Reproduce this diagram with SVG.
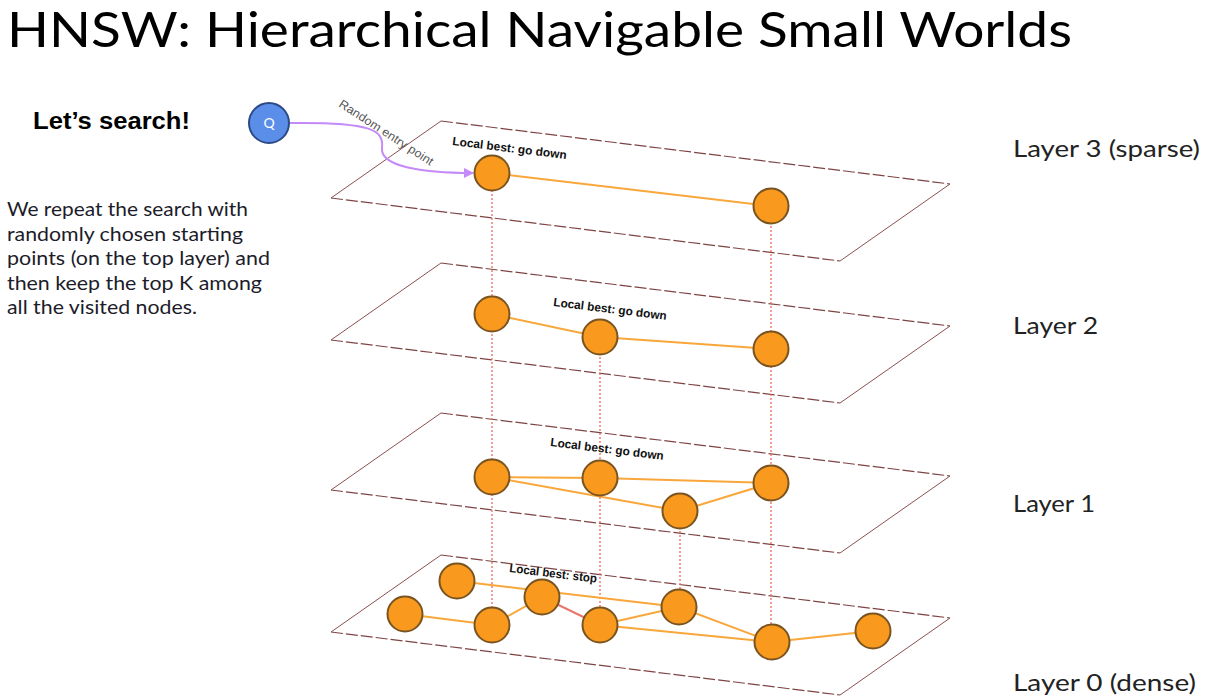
<svg xmlns="http://www.w3.org/2000/svg" width="1206" height="699" viewBox="0 0 1206 699">
<style>
.title{font-family:Lato,"Open Sans","Liberation Sans",sans-serif;font-size:48px;fill:#000}
.body{font-family:Lato,"Open Sans","Liberation Sans",sans-serif;font-size:19px;fill:#1c1c2a}
.head{font-family:"Liberation Sans",Arial,sans-serif;font-size:23px;font-weight:bold;fill:#000}
.lay{font-family:Lato,"Open Sans","Liberation Sans",sans-serif;font-size:24px;fill:#222}
.lb{font-family:"Liberation Sans",Arial,sans-serif;font-size:12px;font-weight:bold;fill:#111}
.rnd{font-family:"Liberation Sans",Arial,sans-serif;font-size:12px;fill:#555}
.pe{fill:none;stroke:#7e4444;stroke-width:1.2;stroke-dasharray:12 3}
.ps{fill:none;stroke:#8a5050;stroke-width:1}
.nd{fill:#f99a1e;stroke:#7a5420;stroke-width:2}
.ed{stroke:#f9a63a;stroke-width:2;fill:none}
.edr{stroke:#e9776a;stroke-width:2;fill:none}
.vd{stroke:#ee6a5a;stroke-width:1.3;stroke-dasharray:2 2;fill:none}
</style>
<defs>
<marker id="arr" viewBox="0 0 10 10" refX="9" refY="5" markerWidth="10" markerHeight="10" orient="auto" markerUnits="userSpaceOnUse">
<path d="M0,0 L10,5 L0,10 z" fill="#c58af9"/>
</marker>
<g id="plane">
<path class="pe" d="M441,0 L950,63"/>
<path class="pe" d="M331,77 L840,140"/>
<path class="ps" d="M441,0 L331,77"/>
<path class="ps" d="M950,63 L840,140"/>
</g>
</defs>
<rect width="1206" height="699" fill="#fff"/>
<text class="title" x="7" y="47" textLength="1065" lengthAdjust="spacingAndGlyphs">HNSW: Hierarchical Navigable Small Worlds</text>
<text class="head" x="33" y="129" textLength="157" lengthAdjust="spacingAndGlyphs">Let’s search!</text>
<g id="desc">
<text class="body" x="7" y="216" textLength="241" lengthAdjust="spacingAndGlyphs">We repeat the search with</text>
<text class="body" x="7" y="241" textLength="236" lengthAdjust="spacingAndGlyphs">randomly chosen starting</text>
<text class="body" x="7" y="265" textLength="263" lengthAdjust="spacingAndGlyphs">points (on the top layer) and</text>
<text class="body" x="7" y="290" textLength="255" lengthAdjust="spacingAndGlyphs">then keep the top K among</text>
<text class="body" x="7" y="314" textLength="190" lengthAdjust="spacingAndGlyphs">all the visited nodes.</text>
</g>
<g id="planes">
<use href="#plane" y="121"/>
<use href="#plane" y="263"/>
<use href="#plane" y="413"/>
<use href="#plane" y="555"/>
</g>
<g id="layer-labels">
<text class="lay" x="1013" y="157" textLength="187" lengthAdjust="spacingAndGlyphs">Layer 3 (sparse)</text>
<text class="lay" x="1013" y="334" textLength="85" lengthAdjust="spacingAndGlyphs">Layer 2</text>
<text class="lay" x="1013" y="512" textLength="82" lengthAdjust="spacingAndGlyphs">Layer 1</text>
<text class="lay" x="1013" y="691" textLength="183" lengthAdjust="spacingAndGlyphs">Layer 0 (dense)</text>
</g>
<g id="connectors">
<path class="vd" d="M492,174 V625"/>
<path class="vd" d="M600,337 V625"/>
<path class="vd" d="M680,511 V607"/>
<path class="vd" d="M771,206 V642"/>
<path class="ed" d="M492,173 L771,206"/>
<path class="ed" d="M492,314 L600,337 L771,349"/>
<path class="ed" d="M492,477 L600,478 L771,483"/>
<path class="ed" d="M492,477 L680,511 L771,483"/>
<path class="ed" d="M405,614 L492,625 L542,597"/>
<path class="edr" d="M542,597 L600,625"/>
<path class="ed" d="M457,581 L679,607"/>
<path class="ed" d="M600,625 L679,607 L772,642"/>
<path class="ed" d="M600,625 L772,642 L873,631"/>
<path d="M290,123 C372,122 384,130 382,148 C380,166 420,173 473,173" fill="none" stroke="#c58af9" stroke-width="2" marker-end="url(#arr)"/>
</g>
<g id="labels">
<text class="rnd" x="338" y="106" transform="rotate(33 338 106)" textLength="110" lengthAdjust="spacingAndGlyphs">Random entry point</text>
<text class="lb" x="452" y="145" transform="rotate(7 452 145)" textLength="115" lengthAdjust="spacingAndGlyphs">Local best: go down</text>
<text class="lb" x="553" y="306" transform="rotate(7 553 306)" textLength="114" lengthAdjust="spacingAndGlyphs">Local best: go down</text>
<text class="lb" x="550" y="446" transform="rotate(7 550 446)" textLength="114" lengthAdjust="spacingAndGlyphs">Local best: go down</text>
<text class="lb" x="509" y="572" transform="rotate(7 509 572)" textLength="88" lengthAdjust="spacingAndGlyphs">Local best: stop</text>
</g>
<g id="query">
<circle cx="269" cy="123" r="20" fill="#5a8ee8" stroke="#2c4a86" stroke-width="2"/>
<text x="269" y="128" text-anchor="middle" font-family="Lato,'Liberation Sans',sans-serif" font-size="14" fill="#fff">Q</text>
</g>
<g id="n3a"><circle class="nd" cx="492" cy="173" r="17.5"/></g>
<g id="n3b"><circle class="nd" cx="771" cy="206" r="17.5"/></g>
<g id="n2a"><circle class="nd" cx="492" cy="314" r="17.5"/></g>
<g id="n2b"><circle class="nd" cx="600" cy="337" r="17.5"/></g>
<g id="n2c"><circle class="nd" cx="771" cy="349" r="17.5"/></g>
<g id="n1a"><circle class="nd" cx="492" cy="477" r="17.5"/></g>
<g id="n1b"><circle class="nd" cx="600" cy="478" r="17.5"/></g>
<g id="n1c"><circle class="nd" cx="680" cy="511" r="17.5"/></g>
<g id="n1d"><circle class="nd" cx="771" cy="483" r="17.5"/></g>
<g id="n0a"><circle class="nd" cx="457" cy="581" r="17.5"/></g>
<g id="n0b"><circle class="nd" cx="405" cy="614" r="17.5"/></g>
<g id="n0c"><circle class="nd" cx="492" cy="625" r="17.5"/></g>
<g id="n0d"><circle class="nd" cx="542" cy="597" r="17.5"/></g>
<g id="n0e"><circle class="nd" cx="600" cy="625" r="17.5"/></g>
<g id="n0f"><circle class="nd" cx="679" cy="607" r="17.5"/></g>
<g id="n0g"><circle class="nd" cx="772" cy="642" r="17.5"/></g>
<g id="n0h"><circle class="nd" cx="873" cy="631" r="17.5"/></g>
</svg>
